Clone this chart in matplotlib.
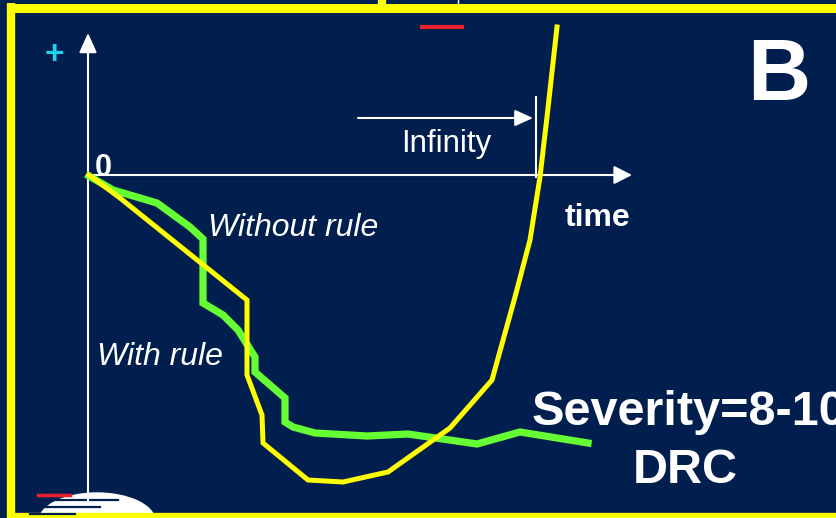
import matplotlib
matplotlib.use("Agg")
import matplotlib.pyplot as plt
from matplotlib.patches import Ellipse

# ---- data (time from origin, value; units) ----
without_t = [0, 24, 68, 101, 114, 114, 134, 149, 166, 166, 196, 196, 204, 226, 278, 319, 388, 431, 499]
without_v = [-1, -15, -28, -52, -64, -128, -140, -155, -182, -197, -223, -247, -252, -258, -261, -259, -269, -257, -268]

with_t = [0, 31, 158, 158, 173, 174, 219, 254, 299, 361, 403, 426, 441, 451, 458, 468]
with_v = [0, -23, -125, -200, -240, -268, -305, -307, -297, -253, -205, -122, -65, -2, 58, 148]

infinity_t = [269, 444]   # span of the "Infinity" arrow
infinity_v = 57
infinity_mark_t = 447

BG = "#011F4E"
GREEN = "#66FF33"
YELLOW = "#FFFF00"
FONT = ["Liberation Sans", "DejaVu Sans"]

W, H = 837, 518
fig = plt.figure(figsize=(W / 100, H / 100), dpi=100, facecolor=BG)

# decoration axes (pixel coordinates)
deco = fig.add_axes([0, 0, 1, 1])
deco.set_xlim(0, W)
deco.set_ylim(H, 0)
deco.axis("off")
deco.set_facecolor(BG)

# chart axes: origin at pixel (89,175)
ax = fig.add_axes([0, 0, 1, 1])
ax.set_xlim(-89, W - 89)
ax.set_ylim(175 - H, 175)
ax.axis("off")
ax.patch.set_alpha(0)

# yellow frame
deco.plot([11, 11], [3, 520], color=YELLOW, lw=6, solid_capstyle="butt")
deco.plot([7, 840], [8, 8], color=YELLOW, lw=6.5, solid_capstyle="butt")
deco.plot([7, 840], [517, 517], color=YELLOW, lw=6, solid_capstyle="butt")
deco.plot([382, 382], [0, 10], color=YELLOW, lw=6, solid_capstyle="butt")
deco.plot([458, 458], [0, 4], color="white", lw=1)

# red bars
deco.plot([422, 462], [27, 27], color="#E8202A", lw=3)
deco.plot([38, 70], [495, 495], color="#E8202A", lw=2.5)

# logo (striped white half-globe)
deco.add_patch(Ellipse((97, 521), 116, 56, color="white", zorder=1))
for y, x0, x1 in [(500, 30, 118), (507, 30, 100), (514, 30, 75)]:
    deco.plot([x0, x1], [y, y], color=BG, lw=1.6, zorder=2)

# axes arrows
ax.annotate("", xy=(-1, 142), xytext=(-1, -327),
            arrowprops=dict(arrowstyle="-|>,head_length=0.6,head_width=0.27",
                            color="white", lw=1.5, mutation_scale=20, shrinkA=0, shrinkB=0))
ax.annotate("", xy=(543, 0), xytext=(-1, 0),
            arrowprops=dict(arrowstyle="-|>,head_length=0.55,head_width=0.28",
                            color="white", lw=1.5, mutation_scale=20, shrinkA=0, shrinkB=0))
# Infinity arrow
ax.annotate("", xy=(infinity_t[1], infinity_v), xytext=(infinity_t[0], infinity_v),
            arrowprops=dict(arrowstyle="-|>,head_length=0.55,head_width=0.25",
                            color="white", lw=1.5, mutation_scale=20, shrinkA=0, shrinkB=0))
ax.plot([infinity_mark_t, infinity_mark_t], [78, -2], color="white", lw=1.5)

# curves
ax.plot(without_t, without_v, color=GREEN, lw=5.2, solid_joinstyle="miter", zorder=3)
ax.plot(with_t, with_v, color=YELLOW, lw=3.6, solid_joinstyle="miter", zorder=4)

# texts
ax.text(6, -1, "0", color="white", fontsize=22, fontweight="bold", family=FONT, va="baseline", ha="left")
ax.text(-35, 111, "+", color="#19D7F0", fontsize=24, fontweight="bold", family=FONT, va="baseline", ha="center")
ax.text(476, -51, "time", color="white", fontsize=23, fontweight="bold", family=FONT, va="baseline")
ax.text(312, 23, "Infinity", color="white", fontsize=22.5, family=FONT, va="baseline")
ax.text(119, -61, "Without rule", color="white", fontsize=23, style="italic", family=FONT, va="baseline")
ax.text(8, -190, "With rule", color="white", fontsize=23, style="italic", family=FONT, va="baseline")
ax.text(443, -250, "Severity=8-10", color="white", fontsize=35, fontweight="bold", family=FONT,
        va="baseline", ha="left")
ax.text(596, -308, "DRC", color="white", fontsize=35, fontweight="bold", family=FONT,
        va="baseline", ha="center")
ax.text(658, 75, "B", color="white", fontsize=63, fontweight="bold", family=FONT, va="baseline")

fig.savefig("out.png", dpi=100, facecolor=BG)
